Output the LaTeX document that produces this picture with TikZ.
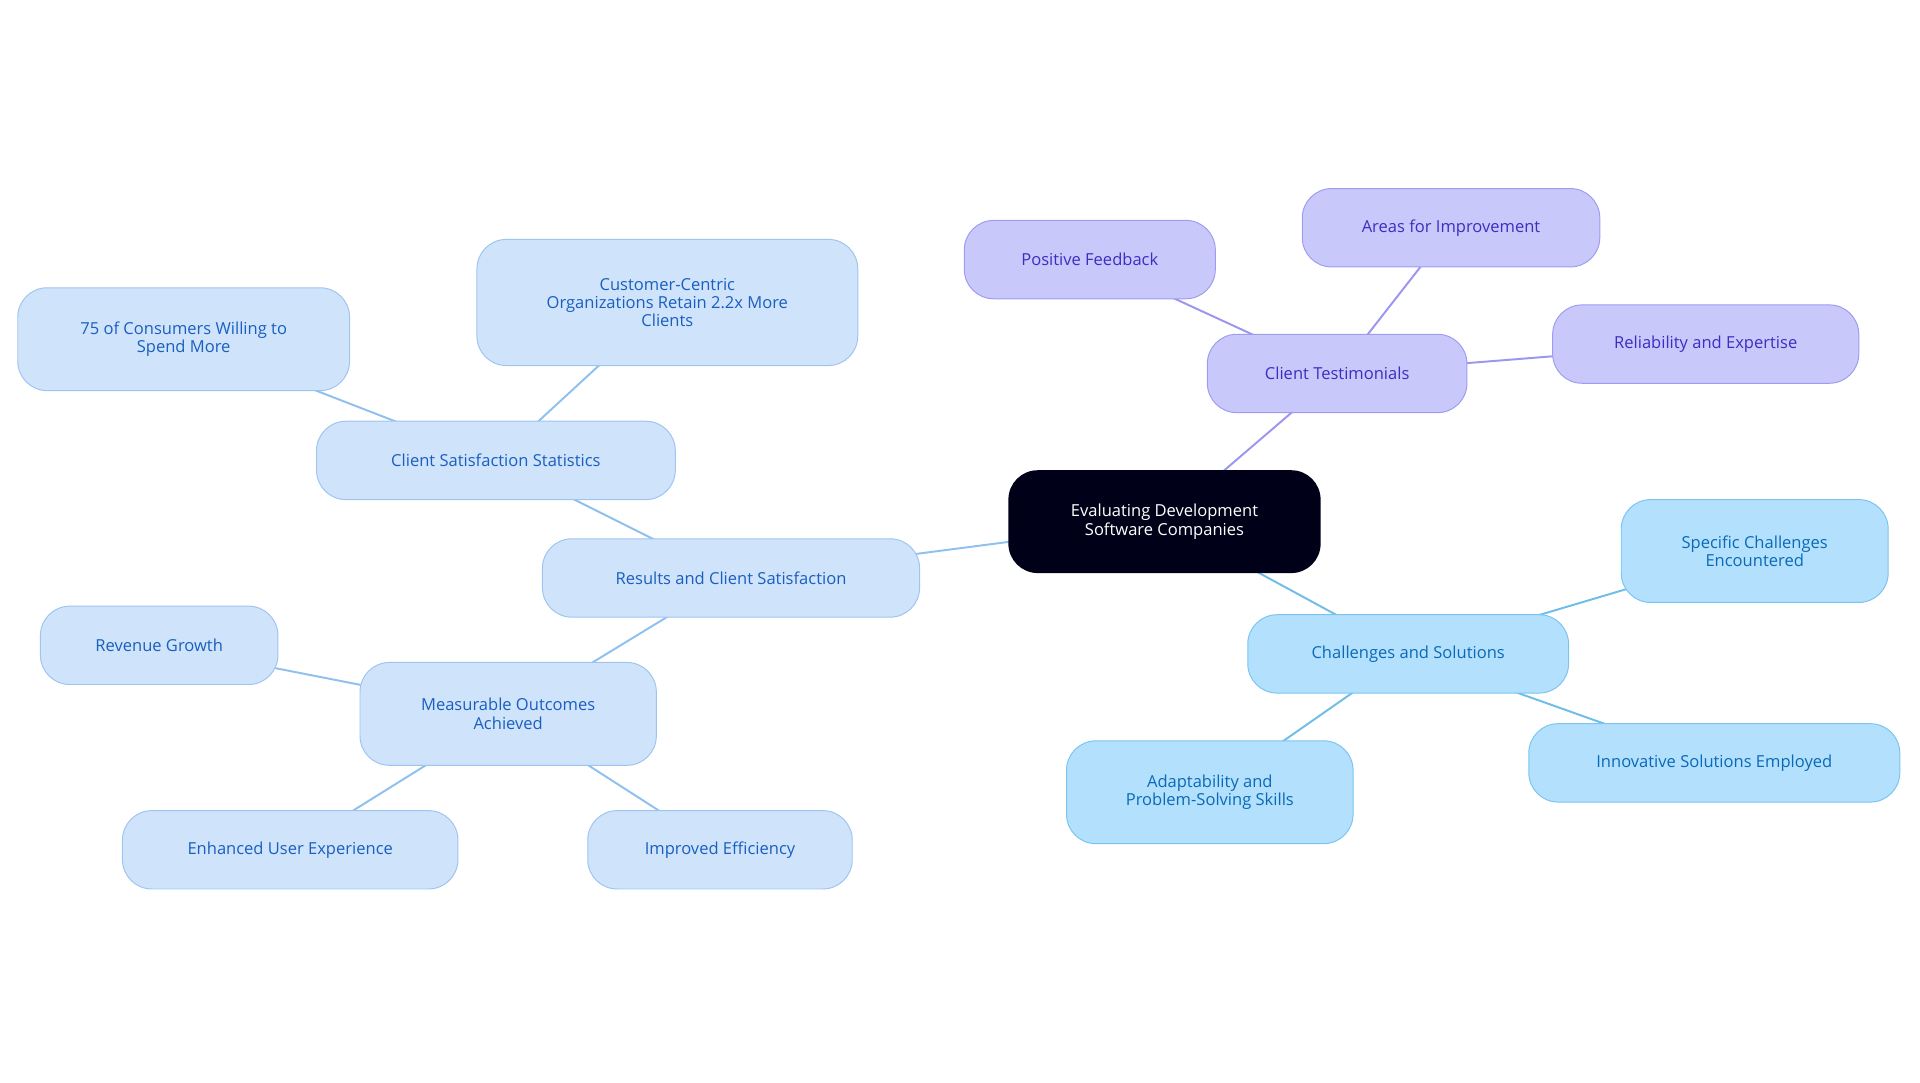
\documentclass[tikz,border=0pt]{standalone}
\usepackage{fontspec}
\setmainfont{Open Sans}
\usetikzlibrary{backgrounds}
\definecolor{bf}{HTML}{CFE3FB}\definecolor{bd}{HTML}{A0C4F0}\definecolor{bt}{HTML}{1A5FC0}\definecolor{be}{HTML}{90C0EE}
\definecolor{pf}{HTML}{C9C8FB}\definecolor{pd}{HTML}{9F9CF0}\definecolor{pt}{HTML}{3A2FC0}\definecolor{pe}{HTML}{9B96EE}
\definecolor{cf}{HTML}{B3E0FD}\definecolor{cd}{HTML}{7CC4F0}\definecolor{ct}{HTML}{0A6AB8}\definecolor{ce}{HTML}{70BDE8}
\tikzset{
 box/.style={rounded corners=24pt,align=center,font=\fontsize{13.5}{15}\selectfont,inner sep=0pt,line width=0.8pt},
 bb/.style={box,fill=bf,draw=bd,text=bt},
 pb/.style={box,fill=pf,draw=pd,text=pt},
 cb/.style={box,fill=cf,draw=cd,text=ct},
 ed/.style={line width=1.6pt}}
\begin{document}
\begin{tikzpicture}[x=1pt,y=-1pt]
\useasboundingbox (0,0) rectangle (1568,884);
\node[box,fill=black!90!blue,text=white,minimum width=255pt,minimum height=84pt] (c) at (951,426) {Evaluating Development\\Software Companies};
\node[bb,minimum width=308pt,minimum height=64pt] (r) at (597,472) {Results and Client Satisfaction};
\node[bb,minimum width=293pt,minimum height=64pt] (s) at (405,376) {Client Satisfaction Statistics};
\node[bb,minimum width=311pt,minimum height=103pt] (cc) at (545,247) {Customer-Centric\\Organizations Retain 2.2x More\\Clients};
\node[bb,minimum width=271pt,minimum height=84pt] (sf) at (150,277) {75 of Consumers Willing to\\Spend More};
\node[bb,minimum width=242pt,minimum height=84pt] (m) at (415,583) {Measurable Outcomes\\Achieved};
\node[bb,minimum width=194pt,minimum height=64pt] (rg) at (130,527) {Revenue Growth};
\node[bb,minimum width=274pt,minimum height=64pt] (eu) at (237,694) {Enhanced User Experience};
\node[bb,minimum width=216pt,minimum height=64pt] (ie) at (588,694) {Improved Efficiency};
\node[pb,minimum width=212pt,minimum height=64pt] (t) at (1092,305) {Client Testimonials};
\node[pb,minimum width=205pt,minimum height=64pt] (pf) at (890,212) {Positive Feedback};
\node[pb,minimum width=243pt,minimum height=64pt] (ai) at (1185,186) {Areas for Improvement};
\node[pb,minimum width=250pt,minimum height=64pt] (re) at (1393,281) {Reliability and Expertise};
\node[cb,minimum width=262pt,minimum height=64pt] (ch) at (1150,534) {Challenges and Solutions};
\node[cb,minimum width=218pt,minimum height=84pt] (sc) at (1433,450) {Specific Challenges\\Encountered};
\node[cb,minimum width=303pt,minimum height=64pt] (is) at (1400,623) {Innovative Solutions Employed};
\node[cb,minimum width=234pt,minimum height=84pt] (ad) at (988,647) {Adaptability and\\Problem-Solving Skills};
\begin{scope}[on background layer]
\draw[ed,be] (c.center)--(r.center) (r.center)--(s.center) (s.center)--(cc.center) (s.center)--(sf.center)
 (r.center)--(m.center) (m.center)--(rg.center) (m.center)--(eu.center) (m.center)--(ie.center);
\draw[ed,pe] (c.center)--(t.center) (t.center)--(pf.center) (t.center)--(ai.center) (t.center)--(re.center);
\draw[ed,ce] (c.center)--(ch.center) (ch.center)--(sc.center) (ch.center)--(is.center) (ch.center)--(ad.center);
\end{scope}
\end{tikzpicture}
\end{document}
